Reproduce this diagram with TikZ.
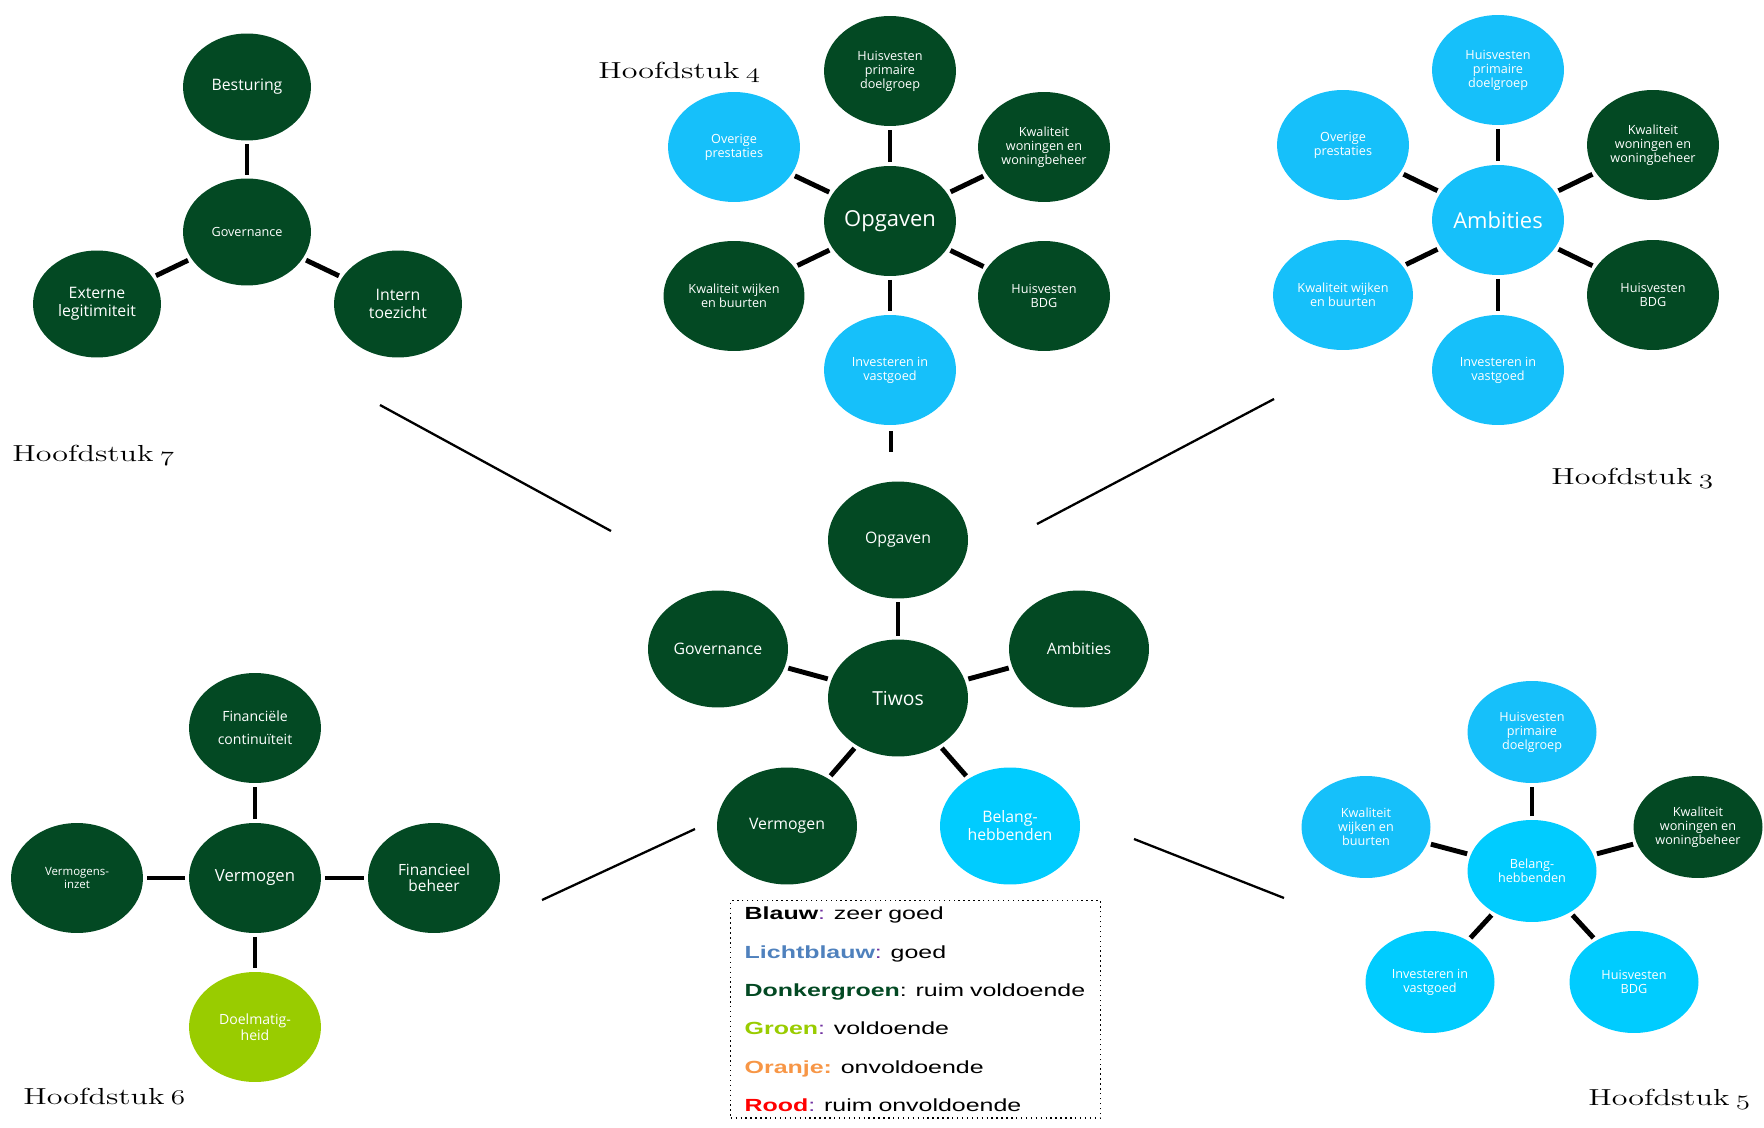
\documentclass[tikz,border=0pt]{standalone}
\usepackage{fontspec}
\usepackage{graphicx}
\usetikzlibrary{shapes.geometric}

\newfontfamily\opensans{Open Sans}
\newfontfamily\arial[FakeStretch=1.42]{Liberation Sans}

\definecolor{donkergroen}{RGB}{3,73,35}
\definecolor{lichtblauw}{RGB}{22,192,250}
\definecolor{helderblauw}{RGB}{0,204,255}
\definecolor{limoengroen}{RGB}{153,204,0}
\definecolor{legblauw}{RGB}{79,129,189}
\definecolor{oranje}{RGB}{247,150,70}
\definecolor{rood}{RGB}{255,0,0}
\definecolor{paars}{RGB}{112,48,160}

% brede kop voor de hoofdstukken
\newcommand{\hoofdstuk}[1]{\scalebox{1.38}[1]{Hoofdstuk\hspace{0.2em}$\mathnormal{#1}$}}

\tikzset{
  bol/.style={ellipse, inner sep=0pt, align=center, text=white},
  donker/.style={bol, fill=donkergroen},
  blauw/.style={bol, fill=lichtblauw},
  helder/.style={bol, fill=helderblauw},
  limoen/.style={bol, fill=limoengroen},
  spaak/.style={line width=2.8pt, shorten >=0.07cm, shorten <=0.07cm},
  lijn/.style={line width=1.3pt},
  hfdst/.style={anchor=base west, inner sep=0pt, font=\fontsize{13.2}{15}\selectfont},
  % maten van de bollen per hoofdstuk
  h7/.style={minimum width=2.56cm, minimum height=2.14cm},
  h4/.style={minimum width=2.64cm, minimum height=2.2cm},
  hm/.style={minimum width=2.8cm, minimum height=2.34cm},
  h6/.style={minimum width=2.64cm, minimum height=2.2cm},
  h5/.style={minimum width=2.58cm, minimum height=2.04cm},
  % lettergroottes
  klein/.style={font=\opensans\fontsize{7.2}{8}\selectfont},
  middel/.style={font=\opensans\fontsize{9}{10.2}\selectfont},
  groot/.style={font=\opensans\fontsize{12.5}{14}\selectfont},
}

\begin{document}
\begin{tikzpicture}[x=0.02cm, y=-0.02cm]

\useasboundingbox (0,0) rectangle (1764,1128);

% Hoofdstuk 7: governance
\node[donker, h7, klein]  (gov7)  at (247,232) {Governance};
\node[donker, h7, middel] (best7) at (247,87)  {Besturing};
\node[donker, h7, middel] (ext7)  at (97,304)  {Externe\\legitimiteit};
\node[donker, h7, middel] (int7)  at (398,304) {Intern\\toezicht};
\draw[spaak] (gov7) -- (best7);
\draw[spaak] (gov7) -- (ext7);
\draw[spaak] (gov7) -- (int7);
\node[hfdst] (hfd7) at (12,461) {\hoofdstuk{7}};

% Hoofdstuk 4: opgaven
\node[donker, h4, groot] (opg4) at (890,221) {Opgaven};
\node[donker, h4, klein] (hpd4) at (890,71)  {Huisvesten\\primaire\\doelgroep};
\node[blauw,  h4, klein] (ove4) at (734,147) {Overige\\prestaties};
\node[donker, h4, klein] (kwo4) at (1044,147) {Kwaliteit\\woningen en\\woningbeheer};
\node[donker, h4, klein, minimum width=2.82cm] (kwb4) at (734,296) {Kwaliteit wijken\\en buurten};
\node[donker, h4, klein] (bdg4) at (1044,296) {Huisvesten\\BDG};
\node[blauw,  h4, klein] (inv4) at (890,370) {Investeren in\\vastgoed};
\foreach \n in {hpd4,ove4,kwo4,kwb4,bdg4,inv4}
  \draw[spaak] (opg4) -- (\n);
\coordinate (stub4a) at (891,431);
\coordinate (stub4b) at (891,452);
\draw[line width=2.8pt] (stub4a) -- (stub4b);
\node[hfdst] (hfd4) at (598,79) {\hoofdstuk{4}};

% Hoofdstuk 3: ambities
\node[blauw,  h4, groot] (amb3) at (1498,220) {Ambities};
\node[blauw,  h4, klein] (hpd3) at (1498,70)  {Huisvesten\\primaire\\doelgroep};
\node[blauw,  h4, klein] (ove3) at (1343,145) {Overige\\prestaties};
\node[donker, h4, klein] (kwo3) at (1653,145) {Kwaliteit\\woningen en\\woningbeheer};
\node[blauw,  h4, klein, minimum width=2.8cm] (kwb3) at (1343,295) {Kwaliteit wijken\\en buurten};
\node[donker, h4, klein] (bdg3) at (1653,295) {Huisvesten\\BDG};
\node[blauw,  h4, klein] (inv3) at (1498,370) {Investeren in\\vastgoed};
\foreach \n in {hpd3,ove3,kwo3,kwb3,bdg3,inv3}
  \draw[spaak] (amb3) -- (\n);
\node[hfdst] (hfd3) at (1551,484) {\hoofdstuk{3}};

% Tiwos in het midden
\node[donker, hm, font=\opensans\fontsize{11}{12}\selectfont] (tiwos) at (898,698) {Tiwos};
\node[donker, hm, middel] (opg)  at (898,540) {Opgaven};
\node[donker, hm, middel] (gov)  at (718,649) {Governance};
\node[donker, hm, middel] (amb)  at (1079,649) {Ambities};
\node[donker, hm, middel] (verm) at (787,826) {Vermogen};
\node[helder, hm, middel] (bel)  at (1010,826) {Belang-\\hebbenden};
\foreach \n in {opg,gov,amb,verm,bel}
  \draw[spaak] (tiwos) -- (\n);

% lijnen naar de hoofdstukken
\coordinate (l7a) at (380,405);  \coordinate (l7b) at (611,531);
\coordinate (l3a) at (1274,399); \coordinate (l3b) at (1037,524);
\coordinate (l6a) at (542,900);  \coordinate (l6b) at (695,829);
\coordinate (l5a) at (1134,839); \coordinate (l5b) at (1284,898);
\draw[lijn] (l7a) -- (l7b);
\draw[lijn] (l3a) -- (l3b);
\draw[lijn] (l6a) -- (l6b);
\draw[lijn] (l5a) -- (l5b);

% Hoofdstuk 6: vermogen
\node[donker, h6, font=\opensans\fontsize{9.5}{11}\selectfont] (verm6) at (255,878) {Vermogen};
\node[donker, h6, font=\opensans\fontsize{8}{13}\selectfont] (fin6) at (255,728) {Financiële\\continuïteit};
\node[donker, h6, font=\opensans\fontsize{6.5}{7.4}\selectfont] (inz6) at (77,878) {Vermogens-\\inzet};
\node[donker, h6, font=\opensans\fontsize{8.8}{9.2}\selectfont] (beh6) at (434,878) {Financieel\\beheer};
\node[limoen, h6, font=\opensans\fontsize{8}{9}\selectfont] (doel6) at (255,1027) {Doelmatig-\\heid};
\foreach \n in {fin6,inz6,beh6,doel6}
  \draw[spaak] (verm6) -- (\n);
\node[hfdst] (hfd6) at (23,1104) {\hoofdstuk{6}};

% Hoofdstuk 5: belanghebbenden
\node[helder, h5, klein] (bel5) at (1532,871) {Belang-\\hebbenden};
\node[blauw,  h5, klein] (hpd5) at (1532,732) {Huisvesten\\primaire\\doelgroep};
\node[blauw,  h5, klein] (kwb5) at (1366,827) {Kwaliteit\\wijken en\\buurten};
\node[donker, h5, klein] (kwo5) at (1698,827) {Kwaliteit\\woningen en\\woningbeheer};
\node[helder, h5, klein] (inv5) at (1430,982) {Investeren in\\vastgoed};
\node[helder, h5, klein] (bdg5) at (1634,982) {Huisvesten\\BDG};
\foreach \n in {hpd5,kwb5,kwo5,inv5,bdg5}
  \draw[spaak] (bel5) -- (\n);
\node[hfdst] (hfd5) at (1588,1105) {\hoofdstuk{5}};

% legenda
\node[draw, dotted, thick, anchor=north west, align=left, text width=6.84cm,
      inner xsep=0.28cm, inner ysep=0.13cm,
      font=\arial\fontsize{10}{21.8}\selectfont] (legenda) at (730,900)
  {{\bfseries Blauw}\textcolor{paars}{:} zeer goed\\
   {\bfseries\color{legblauw}Lichtblauw}\textcolor{paars}{:} goed\\
   {\bfseries\color{donkergroen}Donkergroen}: ruim voldoende\\
   {\bfseries\color{limoengroen}Groen}\textcolor{paars}{:} voldoende\\
   {\bfseries\color{oranje}Oranje:} onvoldoende\\
   {\bfseries\color{rood}Rood}\textcolor{paars}{:} ruim onvoldoende};

\end{tikzpicture}
\end{document}
